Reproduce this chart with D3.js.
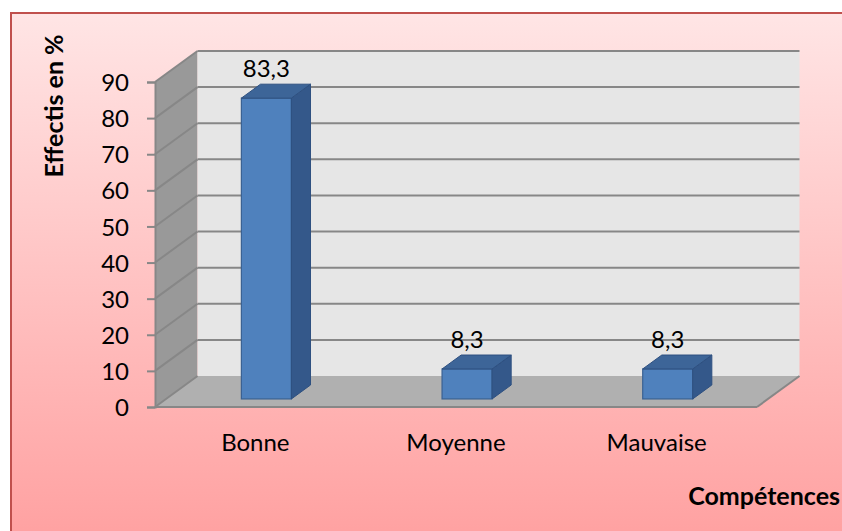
<html>
<head>
<meta charset="utf-8">
<script src="https://d3js.org/d3.v7.min.js"></script>
<style>
body { margin: 0; background: #fff; }
text { font-family: Lato, "Open Sans", sans-serif; fill: #000; }
</style>
</head>
<body>
<svg width="842" height="531"></svg>
<script>
// chart values
var categories = ["Bonne", "Moyenne", "Mauvaise"];
var values = [83.3, 8.3, 8.3];
var valueLabels = ["83,3", "8,3", "8,3"];
var tickValues = [0, 10, 20, 30, 40, 50, 60, 70, 80, 90];
var yTitle = "Effectis en %";
var xTitle = "Compétences";

var svg = d3.select("svg");

// background
var defs = svg.append("defs");
var grad = defs.append("linearGradient").attr("id", "bg")
  .attr("x1", 0).attr("y1", 0).attr("x2", 0).attr("y2", 1);
grad.append("stop").attr("offset", "0%").attr("stop-color", "#ffe5e5");
grad.append("stop").attr("offset", "100%").attr("stop-color", "#ff9f9f");

svg.append("rect")
  .attr("x", 11).attr("y", 13).attr("width", 850).attr("height", 540)
  .attr("fill", "url(#bg)")
  .attr("stroke", "#c0504d").attr("stroke-width", 2);

// scales (front plane)
var x = d3.scaleBand().domain(categories).range([155, 757]).padding(0);
var y = d3.scaleLinear().domain([0, 90]).range([407, 82]);

// depth offset of the 3d box
var depthX = 42.5, depthY = -31;
function px(xf, f) { return xf + depthX * f; }
function py(v, f) { return y(v) + depthY * f; }

var x0 = x.range()[0], x1 = x.range()[1];
var vMax = y.domain()[1];

// side wall
svg.append("polygon")
  .attr("points", [[x0, y(vMax)], [px(x0, 1), py(vMax, 1)], [px(x0, 1), py(0, 1)], [x0, y(0)]].join(" "))
  .attr("fill", "#999999");

// back wall
svg.append("rect")
  .attr("x", px(x0, 1)).attr("y", py(vMax, 1))
  .attr("width", x1 - x0).attr("height", py(0, 1) - py(vMax, 1))
  .attr("fill", "#e6e6e6");

// floor
svg.append("polygon")
  .attr("points", [[x0, y(0)], [px(x0, 1), py(0, 1)], [px(x1, 1), py(0, 1)], [x1, y(0)]].join(" "))
  .attr("fill", "#b0b0b0");

// gridlines
var grid = svg.append("g").attr("stroke", "#878787").attr("stroke-width", 2).attr("fill", "none");
tickValues.filter(function(v) { return v > 0; }).forEach(function(v) {
  grid.append("line")
    .attr("x1", px(x0, 1)).attr("x2", px(x1, 1))
    .attr("y1", py(v, 1)).attr("y2", py(v, 1));
  grid.append("line")
    .attr("x1", x0).attr("y1", y(v))
    .attr("x2", px(x0, 1)).attr("y2", py(v, 1));
});

// floor edges
grid.append("line").attr("x1", x0).attr("x2", x1).attr("y1", y(0)).attr("y2", y(0));
grid.append("line").attr("x1", x1).attr("y1", y(0)).attr("x2", px(x1, 1)).attr("y2", py(0, 1));
grid.append("line").attr("x1", x0).attr("y1", y(0)).attr("x2", px(x0, 1)).attr("y2", py(0, 1));

// y axis
var yAxis = svg.append("g")
  .attr("transform", "translate(" + x0 + ",0)")
  .call(d3.axisLeft(y).tickValues(tickValues).tickSize(8).tickPadding(18).tickFormat(d3.format("d")));
yAxis.select(".domain").attr("stroke", "#878787").attr("stroke-width", 2);
yAxis.selectAll(".tick line").attr("stroke", "#878787").attr("stroke-width", 2);
yAxis.selectAll(".tick text").style("font-size", "24px").attr("fill", "#000")
  .style("font-family", "Lato, sans-serif").attr("dy", "0.36em");

// bars
var barW = 50, fFront = 0.26, fBack = 0.71;
var bars = svg.append("g").selectAll("g").data(values).enter().append("g");
bars.each(function(v, i) {
  var g = d3.select(this);
  var c = x(categories[i]) + x.bandwidth() / 2;
  var xl = c - barW / 2, xr = c + barW / 2;
  // front
  g.append("rect")
    .attr("x", px(xl, fFront)).attr("y", py(v, fFront))
    .attr("width", barW).attr("height", py(0, fFront) - py(v, fFront))
    .attr("fill", "#4f81bd").attr("stroke", "#3a6192").attr("stroke-width", 1.2);
  // side
  g.append("polygon")
    .attr("points", [[px(xr, fFront), py(v, fFront)], [px(xr, fBack), py(v, fBack)],
                     [px(xr, fBack), py(0, fBack)], [px(xr, fFront), py(0, fFront)]].join(" "))
    .attr("fill", "#34588a").attr("stroke", "#2e5080").attr("stroke-width", 1);
  // top
  g.append("polygon")
    .attr("points", [[px(xl, fFront), py(v, fFront)], [px(xl, fBack), py(v, fBack)],
                     [px(xr, fBack), py(v, fBack)], [px(xr, fFront), py(v, fFront)]].join(" "))
    .attr("fill", "#3d6598").attr("stroke", "#2e5080").attr("stroke-width", 1);
  // value label
  g.append("text")
    .attr("x", px(c, fFront)).attr("y", py(v, fBack) - 7)
    .attr("text-anchor", "middle").style("font-size", "24px")
    .text(valueLabels[i]);
});

// category labels
svg.append("g").selectAll("text").data(categories).enter().append("text")
  .attr("x", function(d) { return x(d) + x.bandwidth() / 2; })
  .attr("y", 451)
  .attr("text-anchor", "middle").style("font-size", "24px")
  .text(function(d) { return d; });

// axis titles
svg.append("text")
  .attr("transform", "translate(63,106) rotate(-90)")
  .attr("text-anchor", "middle").style("font-size", "25px").style("font-weight", "bold")
  .text(yTitle);

svg.append("text")
  .attr("x", 840).attr("y", 505)
  .attr("text-anchor", "end").style("font-size", "25px").style("font-weight", "bold")
  .text(xTitle);
</script>
</body>
</html>
